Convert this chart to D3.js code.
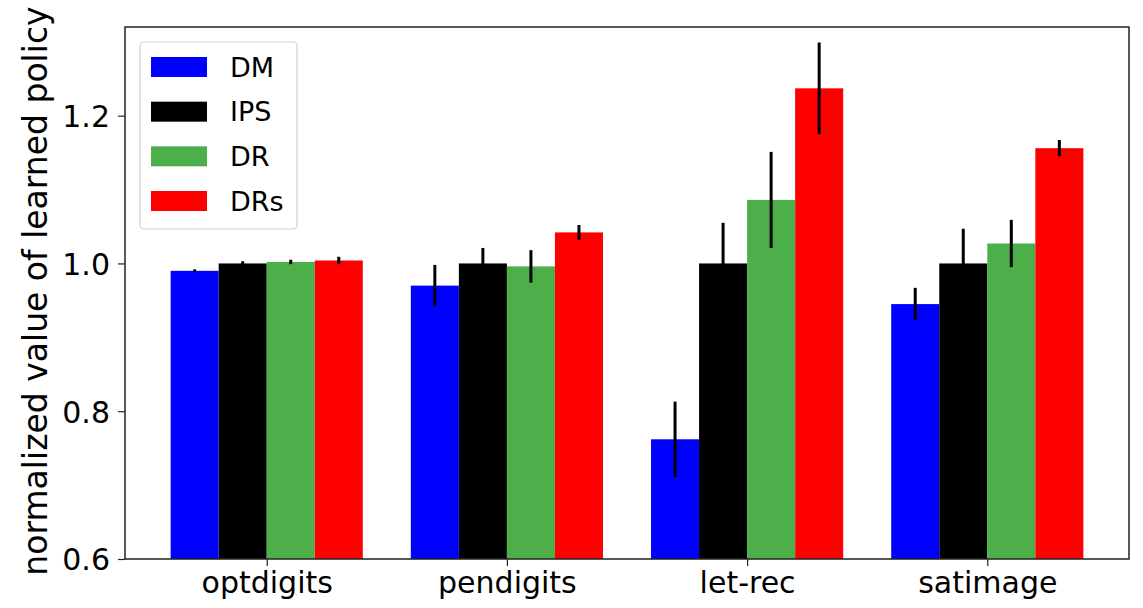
<!DOCTYPE html>
<html>
<head>
<meta charset="utf-8">
<script src="https://cdn.jsdelivr.net/npm/d3@7"></script>
<style>
  html, body { margin: 0; padding: 0; background: #fff; }
  svg { display: block; }
  text { font-family: "DejaVu Sans", sans-serif; fill: #000; }
</style>
</head>
<body>
<svg id="chart" width="1143" height="608"></svg>
<script>
const categories = ["optdigits", "pendigits", "let-rec", "satimage"];
const seriesNames = ["DM", "IPS", "DR", "DRs"];
const seriesColors = ["#0000ff", "#000000", "#4caf4a", "#ff0000"];
const dmValues  = [0.990, 0.970, 0.762, 0.945];
const dmErrors  = [0.002, 0.028, 0.051, 0.022];
const ipsValues = [1.000, 1.000, 1.000, 1.000];
const ipsErrors = [0.003, 0.021, 0.055, 0.047];
const drValues  = [1.002, 0.996, 1.086, 1.027];
const drErrors  = [0.003, 0.022, 0.065, 0.032];
const drsValues = [1.004, 1.042, 1.237, 1.156];
const drsErrors = [0.005, 0.010, 0.062, 0.011];
const yTicks = [0.6, 0.8, 1.0, 1.2];

const values = [dmValues, ipsValues, drValues, drsValues];
const errors = [dmErrors, ipsErrors, drErrors, drsErrors];

const svg = d3.select("#chart");
const L = 125, R = 1129, T = 27, B = 559;
const barW = 0.2;
const offsets = [-0.3, -0.1, 0.1, 0.3];

const x = d3.scaleLinear().domain([-0.59, 3.59]).range([L, R]);
const y = d3.scaleLinear().domain([0.6, 1.32]).range([B, T]);

// bars
seriesNames.forEach((name, s) => {
  const g = svg.append("g");
  g.selectAll("rect").data(values[s]).join("rect")
    .attr("x", (d, i) => x(i + offsets[s] - barW / 2))
    .attr("width", (d, i) => x(i + offsets[s] + barW / 2) - x(i + offsets[s] - barW / 2))
    .attr("y", d => y(d))
    .attr("height", d => y(0.6) - y(d))
    .attr("fill", seriesColors[s]);
});
// error bars
seriesNames.forEach((name, s) => {
  svg.append("g").selectAll("line").data(values[s]).join("line")
    .attr("x1", (d, i) => x(i + offsets[s]))
    .attr("x2", (d, i) => x(i + offsets[s]))
    .attr("y1", (d, i) => y(d - errors[s][i]))
    .attr("y2", (d, i) => y(d + errors[s][i]))
    .attr("stroke", "#000")
    .attr("stroke-width", 3);
});

// frame
svg.append("rect").attr("x", L).attr("y", T).attr("width", R - L).attr("height", B - T)
  .attr("fill", "none").attr("stroke", "#222").attr("stroke-width", 1.5);

// axes
const yAxis = d3.axisLeft(y).tickValues(yTicks).tickFormat(d3.format(".1f")).tickSize(7).tickPadding(8);
const gy = svg.append("g").attr("transform", `translate(${L},0)`).call(yAxis);
gy.select(".domain").remove();
gy.selectAll("line").attr("stroke", "#222").attr("stroke-width", 1.2);
gy.selectAll("text").style("font-size", "30px").attr("dy", "0.36em");

const xAxis = d3.axisBottom(x).tickValues(d3.range(categories.length)).tickFormat(i => categories[i]).tickSize(7).tickPadding(6);
const gx = svg.append("g").attr("transform", `translate(0,${B})`).call(xAxis);
gx.select(".domain").remove();
gx.selectAll("line").attr("stroke", "#222").attr("stroke-width", 1.2);
gx.selectAll("text").style("font-size", "30px");

svg.append("text")
  .attr("transform", `translate(47,291) rotate(-90)`)
  .attr("text-anchor", "middle")
  .style("font-size", "33px")
  .text("normalized value of learned policy");

// legend
const lg = svg.append("g");
lg.append("rect").attr("x", 140).attr("y", 42).attr("width", 157).attr("height", 187)
  .attr("rx", 4).attr("fill", "#fff").attr("fill-opacity", 0.8)
  .attr("stroke", "#d0d0d0").attr("stroke-width", 1.2);
const ly = d3.scalePoint().domain(seriesNames).range([67, 201]);
seriesNames.forEach((name, s) => {
  lg.append("rect").attr("x", 151).attr("y", ly(name) - 10).attr("width", 56).attr("height", 20)
    .attr("fill", seriesColors[s]);
  lg.append("text").attr("x", 230).attr("y", ly(name)).attr("dy", "0.36em")
    .style("font-size", "27px").text(name);
});
</script>
</body>
</html>
